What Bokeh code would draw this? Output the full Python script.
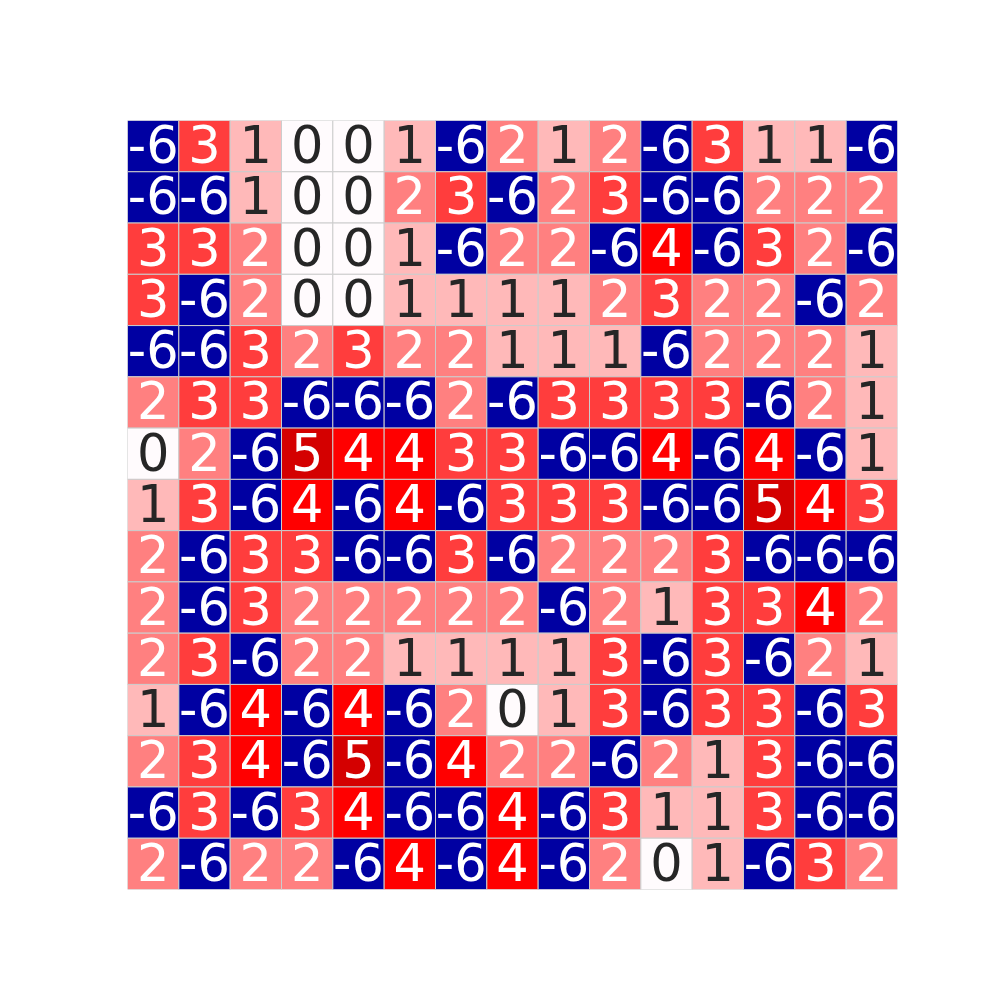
from bokeh.plotting import figure
from bokeh.models import ColumnDataSource, Range1d
from bokeh.embed import file_html
from bokeh.resources import INLINE
from bokeh.core.properties import value

grid = [
    [-6, 3, 1, 0, 0, 1, -6, 2, 1, 2, -6, 3, 1, 1, -6],
    [-6, -6, 1, 0, 0, 2, 3, -6, 2, 3, -6, -6, 2, 2, 2],
    [3, 3, 2, 0, 0, 1, -6, 2, 2, -6, 4, -6, 3, 2, -6],
    [3, -6, 2, 0, 0, 1, 1, 1, 1, 2, 3, 2, 2, -6, 2],
    [-6, -6, 3, 2, 3, 2, 2, 1, 1, 1, -6, 2, 2, 2, 1],
    [2, 3, 3, -6, -6, -6, 2, -6, 3, 3, 3, 3, -6, 2, 1],
    [0, 2, -6, 5, 4, 4, 3, 3, -6, -6, 4, -6, 4, -6, 1],
    [1, 3, -6, 4, -6, 4, -6, 3, 3, 3, -6, -6, 5, 4, 3],
    [2, -6, 3, 3, -6, -6, 3, -6, 2, 2, 2, 3, -6, -6, -6],
    [2, -6, 3, 2, 2, 2, 2, 2, -6, 2, 1, 3, 3, 4, 2],
    [2, 3, -6, 2, 2, 1, 1, 1, 1, 3, -6, 3, -6, 2, 1],
    [1, -6, 4, -6, 4, -6, 2, 0, 1, 3, -6, 3, 3, -6, 3],
    [2, 3, 4, -6, 5, -6, 4, 2, 2, -6, 2, 1, 3, -6, -6],
    [-6, 3, -6, 3, 4, -6, -6, 4, -6, 3, 1, 1, 3, -6, -6],
    [2, -6, 2, 2, -6, 4, -6, 4, -6, 2, 0, 1, -6, 3, 2],
]

levels = [-6, 0, 1, 2, 3, 4, 5]
level_colors = ["#0000A2", "#FFFBFD", "#FFB9B9", "#FF8080", "#FF3D3D", "#FF0000", "#D40000"]
cmap = dict(zip(levels, level_colors))

xs, ys, vals, fills, tcolors, labels = [], [], [], [], [], []
n = len(grid)
for r, row in enumerate(grid):
    for c, v in enumerate(row):
        xs.append(c + 0.5)
        ys.append(n - r - 0.5)
        vals.append(v)
        fills.append(cmap[v])
        tcolors.append("#262626" if v in (0, 1) else "#FFFFFF")
        labels.append(str(v))

src = ColumnDataSource(dict(x=xs, y=ys, v=vals, fill=fills, tc=tcolors, label=labels))

p = figure(width=1000, height=1000, output_backend="svg", toolbar_location=None,
           x_range=Range1d(0, n), y_range=Range1d(0, n),
           min_border_left=127, min_border_right=103, min_border_top=120, min_border_bottom=111)
p.axis.visible = False
p.grid.visible = False
p.outline_line_color = None
p.background_fill_color = "white"

p.rect(x="x", y="y", width=1, height=1, fill_color="fill", line_color="#CCCCCC", line_width=1, source=src)
p.text(x="x", y="y", text="label", text_color="tc", text_align="center", text_baseline="middle",
       text_font=value("DejaVu Sans"), text_font_size="51px", y_offset=-2, source=src)

open("out.html", "w").write(file_html(p, INLINE))
